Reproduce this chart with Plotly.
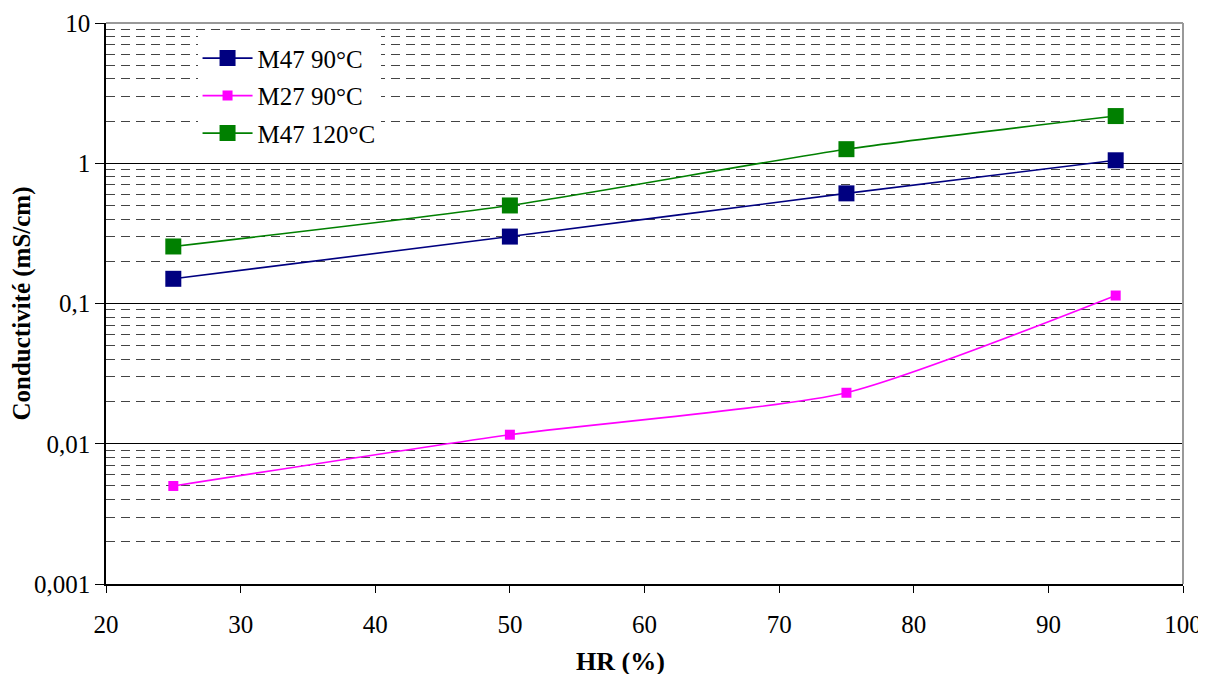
import plotly.graph_objects as go

hr = [25, 50, 75, 95]
m47_90 = [0.15, 0.30, 0.61, 1.05]
m27_90 = [0.005, 0.0116, 0.0231, 0.114]
m47_120 = [0.255, 0.50, 1.26, 2.17]

series_names = ["M47 90°C", "M27 90°C", "M47 120°C"]
series_colors = ["#000080", "#FF00FF", "#008000"]
marker_sizes = [16, 10, 16]

y_major = [0.001, 0.01, 0.1, 1, 10]
y_major_text = ["0,001", "0,01", "0,1", "1", "10"]
y_minor = [m * 10 ** e for e in (-3, -2, -1, 0) for m in range(2, 10)]
x_ticks = [20, 30, 40, 50, 60, 70, 80, 90, 100]

x_title = "HR (%)"
y_title = "Conductivité (mS/cm)"

font_family = "Liberation Serif, Times New Roman, serif"

fig = go.Figure()
for name, ys, col, ms in zip(series_names, [m47_90, m27_90, m47_120], series_colors, marker_sizes):
    fig.add_trace(go.Scatter(
        x=hr, y=ys, name=name, mode="lines+markers",
        line=dict(color=col, width=1.6, shape="spline", smoothing=0.6),
        marker=dict(symbol="square", size=ms, color=col,
                    line=dict(width=0)),
        legendgroup=name,
    ))

# the page body adds an 8px offset, so margins are reduced accordingly
fig.update_layout(
    width=1206, height=674,
    paper_bgcolor="white", plot_bgcolor="white",
    margin=dict(l=98, r=31, t=15, b=98, autoexpand=False),
    font=dict(family=font_family, size=25, color="black"),
    showlegend=True,
    legend=dict(x=0.085, y=0.978, xanchor="left", yanchor="top",
                bgcolor="white", borderwidth=0, tracegroupgap=2,
                itemwidth=50,
                font=dict(size=25, family=font_family)),
    xaxis=dict(
        range=[20, 100], tickvals=x_ticks, showgrid=False, zeroline=False,
        showline=True, linecolor="black", linewidth=1.5, automargin=False,
        ticks="outside", ticklen=7, tickcolor="black", ticklabelstandoff=10,
        tickfont=dict(size=25),
    ),
    yaxis=dict(
        type="log", range=[-3, 1], tickvals=y_major, ticktext=y_major_text,
        showgrid=True, gridcolor="black", gridwidth=1, zeroline=False,
        showline=True, linecolor="black", linewidth=1.5, automargin=False,
        ticks="outside", ticklen=9, tickcolor="black",
        minor=dict(tickvals=y_minor, showgrid=True, gridcolor="#444444",
                   griddash="9px,6px", gridwidth=1, ticks=""),
        tickfont=dict(size=25),
    ),
)

fig.add_annotation(text="<b>" + x_title + "</b>", xref="paper", yref="paper",
                   x=0.478, y=-0.139, xanchor="center", yanchor="middle",
                   showarrow=False, font=dict(size=26))
fig.add_annotation(text="<b>" + y_title + "</b>", xref="paper", yref="paper",
                   x=-0.078, y=0.5, xanchor="center", yanchor="middle",
                   textangle=-90, showarrow=False, font=dict(size=25))

fig.add_shape(type="line", xref="x domain", yref="y domain", x0=1, x1=1, y0=0, y1=1,
              line=dict(color="#999999", width=2))
fig.add_shape(type="line", xref="x domain", yref="y domain", x0=0, x1=1, y0=1, y1=1,
              line=dict(color="#999999", width=2))

fig.write_html("out.html")
